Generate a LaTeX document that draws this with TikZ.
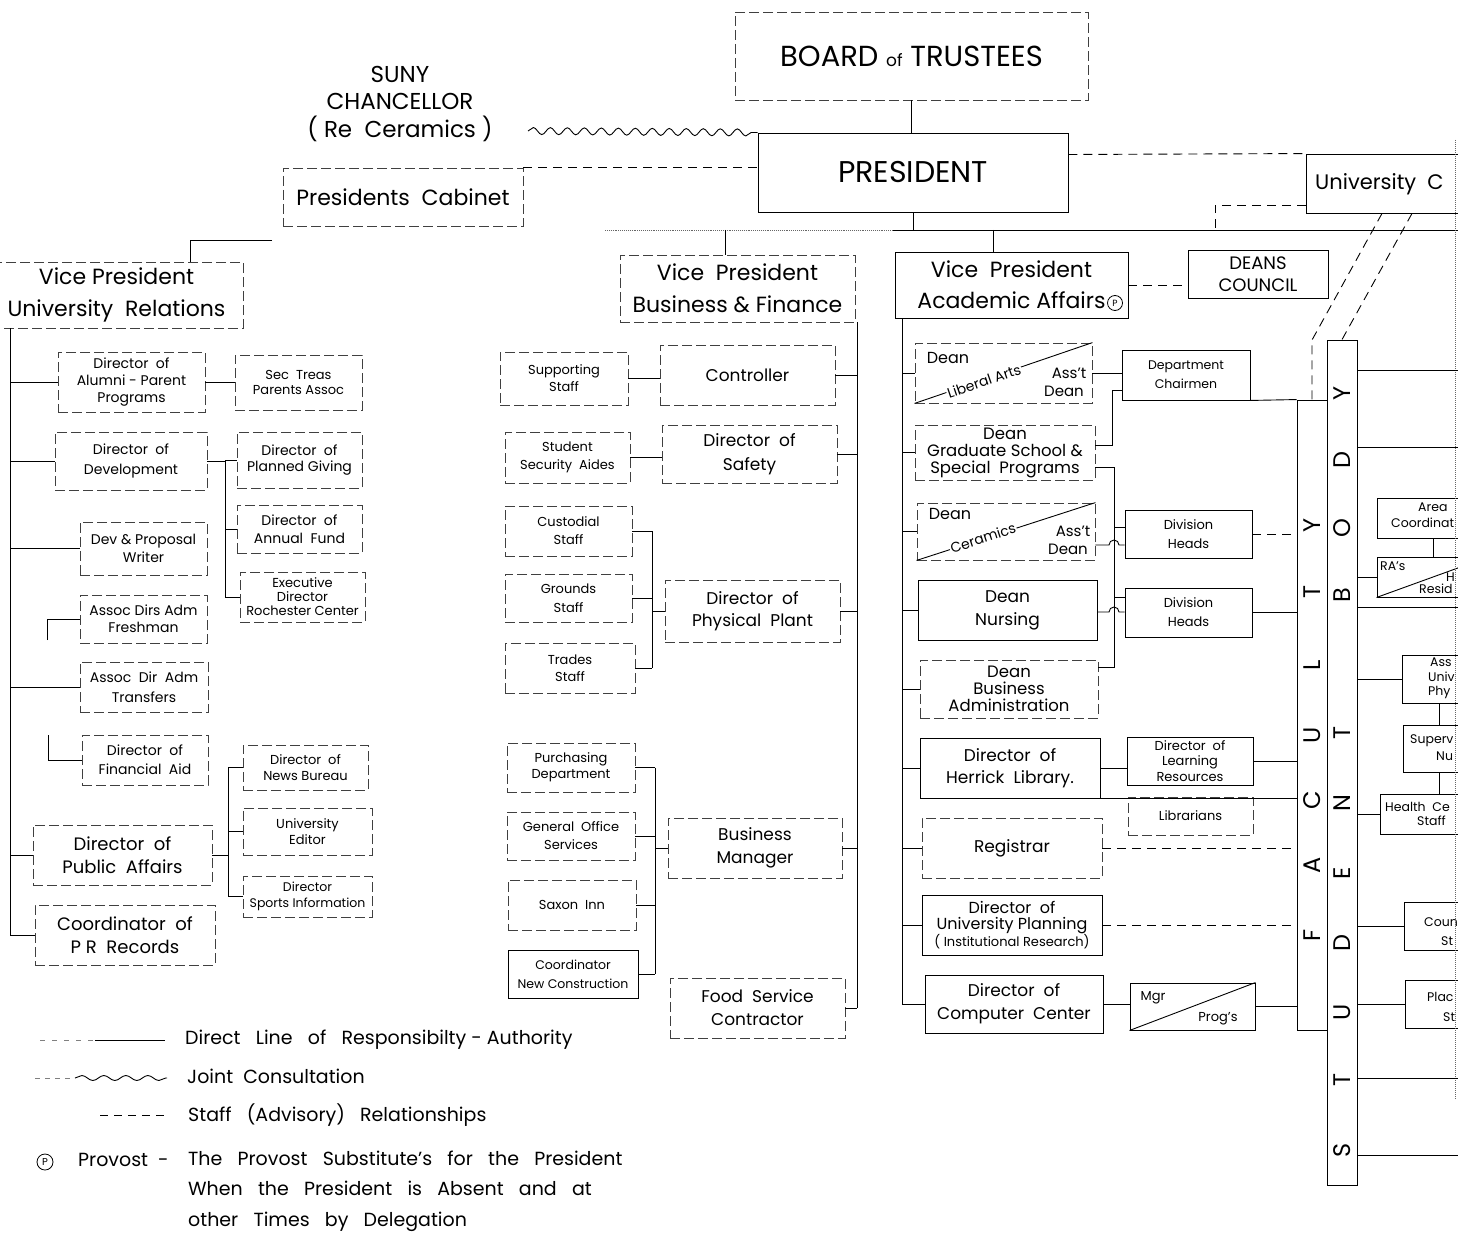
\documentclass[tikz,border=0pt]{standalone}
\usepackage{fontspec}
\setmainfont{Poppins}
\usetikzlibrary{decorations.pathmorphing,calc}
\newcommand{\fsz}[2]{\fontsize{#1}{#2}\selectfont}
\begin{document}
\begin{tikzpicture}[x=1pt,y=-1pt]
\tikzset{
 sb/.style={draw, line width=0.9pt, inner sep=0pt, align=center},
 fb/.style={draw=black!75, line width=0.8pt, dash pattern=on 10pt off 4pt, inner sep=0pt, align=center},
 ln/.style={line width=0.9pt},
 adv/.style={line width=0.9pt, dash pattern=on 9pt off 6pt},
 wavy/.style={line width=0.9pt, decorate, decoration={snake, amplitude=3.5pt, segment length=17pt}},
 lbl/.style={inner sep=0pt, align=center},
 vl/.style={inner sep=0pt, rotate=90, font=\fsz{24}{24}},
}
\useasboundingbox (0,0) rectangle (1458,1233);
\fill[white] (0,0) rectangle (1458,1233);
\clip (0,0) rectangle (1458,1233);

% ---------- top ----------
\node[fb, minimum width=353pt, minimum height=88pt, font=\fsz{29}{32}] (board) at (911.5,56) {BOARD {\fsz{17}{17}of} TRUSTEES};
\node[sb, minimum width=310pt, minimum height=79pt, font=\fsz{30}{32}] (pres) at (913,172.5) {PRESIDENT};
\node[lbl, font=\fsz{23}{27.5}] (suny) at (400,104) {SUNY\\CHANCELLOR\\( Re\ \ Ceramics )};
\node[fb, minimum width=240pt, minimum height=58pt, font=\fsz{22}{24}] (cab) at (403,197) {Presidents\ \ Cabinet};
\node[sb, minimum width=194pt, minimum height=59pt] (univc) at (1403,183.5) {};
\node[lbl, anchor=west, font=\fsz{21}{24}] (univt) at (1315,184) {University\ \ C};
\node[sb, minimum width=140pt, minimum height=48pt, font=\fsz{18}{22}] (deans) at (1258,274) {DEANS\\COUNCIL};

% ---------- vice presidents ----------
\node[fb, minimum width=253pt, minimum height=66pt, font=\fsz{22}{32}] (vpur) at (116.5,295) {Vice President\\University\ \ Relations};
\node[fb, minimum width=235pt, minimum height=67pt, font=\fsz{22}{32}] (vpbf) at (737.5,288.5) {Vice\ \ President\\Business \& Finance};
\node[sb, minimum width=233pt, minimum height=66pt, font=\fsz{22}{31}] (vpaa) at (1011.5,285) {Vice\ \ President\\Academic Affairs\hspace{20pt}};
\node[draw, circle, line width=0.8pt, inner sep=0.5pt, minimum size=15pt, font=\fsz{9}{9}] (pc) at (1115,303) {P};

% ---------- left column ----------
\node[fb, minimum width=147pt, minimum height=60pt, font=\fsz{14}{17}] (alumni) at (131.5,382) {Director\ \ of\\Alumni - Parent\\Programs};
\node[fb, minimum width=127pt, minimum height=55pt, font=\fsz{13}{15}] (sectreas) at (298.5,382.5) {Sec\ \ Treas\\Parents Assoc};
\node[fb, minimum width=152pt, minimum height=58pt, font=\fsz{14}{20}] (devel) at (131,461) {Director\ \ of\\Development};
\node[fb, minimum width=125pt, minimum height=56pt, font=\fsz{14}{16}] (planned) at (299.5,460) {Director\ \ of\\Planned Giving};
\node[fb, minimum width=125pt, minimum height=48pt, font=\fsz{14}{18}] (annual) at (299.5,529) {Director\ \ of\\Annual\ \ Fund};
\node[fb, minimum width=125pt, minimum height=50pt, font=\fsz{13}{14}] (rochester) at (302.5,597) {Executive\\Director\\Rochester Center};
\node[fb, minimum width=127pt, minimum height=53pt, font=\fsz{14}{18}] (devwriter) at (143.5,548.5) {Dev \& Proposal\\Writer};
\node[fb, minimum width=127pt, minimum height=48pt, font=\fsz{14}{17}] (freshman) at (143.5,619) {Assoc Dirs Adm\\Freshman};
\node[fb, minimum width=128pt, minimum height=50pt, font=\fsz{14}{20}] (transfers) at (144,687) {Assoc\ \ Dir\ \ Adm\\Transfers};
\node[fb, minimum width=126pt, minimum height=50pt, font=\fsz{14}{19}] (finaid) at (145,760) {Director\ \ of\\Financial\ \ Aid};
\node[fb, minimum width=179pt, minimum height=60pt, font=\fsz{18}{23}] (pubaff) at (122.5,855) {Director\ \ of\\Public\ \ Affairs};
\node[fb, minimum width=125pt, minimum height=45pt, font=\fsz{13}{16}] (newsb) at (305.5,767.5) {Director\ \ of\\News Bureau};
\node[fb, minimum width=129pt, minimum height=47pt, font=\fsz{13}{16}] (editor) at (307.5,831.5) {University\\Editor};
\node[fb, minimum width=129pt, minimum height=41pt, font=\fsz{12.5}{16}] (sports) at (307.5,896.5) {Director\\Sports Information};
\node[fb, minimum width=180pt, minimum height=60pt, font=\fsz{18}{23}] (prrec) at (125,935) {Coordinator\ \ of\\P\ R\ \ Records};

% ---------- middle column ----------
\node[fb, minimum width=128pt, minimum height=53pt, font=\fsz{13}{17}] (supp) at (564,378.5) {Supporting\\Staff};
\node[fb, minimum width=125pt, minimum height=51pt, font=\fsz{13}{18}] (secaides) at (567.5,457.5) {Student\\Security\ \ Aides};
\node[fb, minimum width=127pt, minimum height=50pt, font=\fsz{13}{18}] (custod) at (568.5,531) {Custodial\\Staff};
\node[fb, minimum width=127pt, minimum height=48pt, font=\fsz{13}{19}] (grounds) at (568.5,598) {Grounds\\Staff};
\node[fb, minimum width=130pt, minimum height=50pt, font=\fsz{13}{17}] (trades) at (570,668) {Trades\\Staff};
\node[fb, minimum width=175pt, minimum height=60pt, font=\fsz{17}{22}] (controller) at (747.5,375) {Controller};
\node[fb, minimum width=175pt, minimum height=58pt, font=\fsz{17}{24}] (safety) at (749.5,454) {Director\ \ of\\Safety};
\node[fb, minimum width=175pt, minimum height=62pt, font=\fsz{17}{22}] (physplant) at (752.5,611) {Director\ \ of\\Physical\ \ Plant};
\node[fb, minimum width=128pt, minimum height=49pt, font=\fsz{13}{16}] (purch) at (571,767.5) {Purchasing\\Department};
\node[fb, minimum width=128pt, minimum height=48pt, font=\fsz{13}{18}] (genoff) at (571,836) {General\ \ Office\\Services};
\node[fb, minimum width=128pt, minimum height=50pt, font=\fsz{13}{18}] (saxon) at (572,905) {Saxon\ \ Inn};
\node[sb, minimum width=130pt, minimum height=48pt, font=\fsz{12.5}{19}] (newcon) at (573,974) {Coordinator\\New Construction};
\node[fb, minimum width=174pt, minimum height=60pt, font=\fsz{17}{23}] (busmgr) at (755,848) {Business\\Manager};
\node[fb, minimum width=175pt, minimum height=60pt, font=\fsz{17}{23}] (food) at (757.5,1008) {Food\ \ Service\\Contractor};

% ---------- right column ----------
\node[fb, minimum width=177pt, minimum height=60pt] (libarts) at (1003.5,373) {};
\node[sb, minimum width=128pt, minimum height=50pt, font=\fsz{12.5}{19}] (deptch) at (1186,375) {Department\\Chairmen};
\node[fb, minimum width=180pt, minimum height=55pt, font=\fsz{16.5}{17}] (grad) at (1005,452.5) {Dean\\Graduate\ School \&\\Special\ \ Programs};
\node[fb, minimum width=178pt, minimum height=57pt] (ceram) at (1006,531.5) {};
\node[sb, minimum width=127pt, minimum height=48pt, font=\fsz{13}{19}] (div1) at (1188.5,534) {Division\\Heads};
\node[sb, minimum width=179pt, minimum height=60pt, font=\fsz{17}{23}] (nursing) at (1007.5,610) {Dean\\Nursing};
\node[sb, minimum width=127pt, minimum height=49pt, font=\fsz{13}{19}] (div2) at (1188.5,612.5) {Division\\Heads};
\node[fb, minimum width=178pt, minimum height=58pt, font=\fsz{16.5}{17}] (busadm) at (1009,689) {Dean\\Business\\Administration};
\node[sb, minimum width=180pt, minimum height=60pt, font=\fsz{17}{22}] (herrick) at (1010,768) {Director\ \ of\\Herrick\ \ Library.};
\node[sb, minimum width=126pt, minimum height=48pt, font=\fsz{13}{15.5}] (learnres) at (1190,761) {Director\ \ of\\Learning\\Resources};
\node[fb, minimum width=125pt, minimum height=38pt, font=\fsz{13}{15}] (librarians) at (1190.5,816) {Librarians};
\node[fb, minimum width=180pt, minimum height=60pt, font=\fsz{17}{22}] (registrar) at (1012,848) {Registrar};
\node[sb, minimum width=180pt, minimum height=60pt, font=\fsz{16}{16.5}] (planning) at (1012,925) {Director\ \ of\\University Planning\\{\fsz{13}{16.5}( Institutional Research)}};
\node[sb, minimum width=178pt, minimum height=58pt, font=\fsz{17}{23}] (compctr) at (1014,1004) {Director\ \ of\\Computer\ \ Center};
\node[sb, minimum width=125pt, minimum height=47pt] (mgrprog) at (1192.5,1006.5) {};

% texts in split boxes
\draw[ln] (libarts.south west) -- (libarts.north east);
\node[lbl, fill=white, inner sep=1pt, rotate=18.8, font=\fsz{14}{14}] (latx) at (984,381) {Liberal Arts};
\node[lbl, font=\fsz{16}{16}] (lad1) at (948,358) {Dean};
\node[lbl, font=\fsz{15}{15}] (las) at (1069,373) {Ass't};
\node[lbl, font=\fsz{15}{15}] (lad2) at (1064,391) {Dean};
\draw[ln] (ceram.south west) -- (ceram.north east);
\node[lbl, fill=white, inner sep=1pt, rotate=17.9, font=\fsz{14}{14}] (cetx) at (983,538) {Ceramics};
\node[lbl, font=\fsz{16}{16}] (ced1) at (950,514) {Dean};
\node[lbl, font=\fsz{15}{15}] (ces) at (1073,531) {Ass't};
\node[lbl, font=\fsz{15}{15}] (ced2) at (1068,549) {Dean};
\draw[ln] (mgrprog.south west) -- (mgrprog.north east);
\node[lbl, font=\fsz{13}{13}] (mgr) at (1153,998) {Mgr};
\node[lbl, font=\fsz{13}{13}] (progs) at (1218,1019) {Prog's};

% ---------- bars ----------
\node[sb, minimum width=30pt, minimum height=845pt] (student) at (1342,762.5) {};
\node[sb, minimum width=30pt, minimum height=630pt] (faculty) at (1312,715) {};
\foreach \l/\yy [count=\i] in {F/935,A/865,C/800,U/735,L/665,T/592,Y/525}
  \node[vl] (fl\i) at (1312,\yy) {\l};
\foreach \l/\yy [count=\i] in {S/1150,T/1080,U/1012,D/943,E/873,N/803,T/733,B/595,O/528,D/460,Y/393}
  \node[vl] (sl\i) at (1342,\yy) {\l};

% ---------- right edge boxes ----------
\node[sb, minimum width=112pt, minimum height=40pt] (areacoord) at (1433,518) {};
\node[sb, minimum width=112pt, minimum height=40pt] (ras) at (1433,577) {};
\node[sb, minimum width=74pt, minimum height=48pt] (asst) at (1439,679) {};
\node[sb, minimum width=72pt, minimum height=47pt] (superv) at (1439,748.5) {};
\node[sb, minimum width=118pt, minimum height=40pt] (health) at (1439,814) {};
\node[sb, minimum width=100pt, minimum height=48pt] (coun) at (1454,926) {};
\node[sb, minimum width=100pt, minimum height=48pt] (plac) at (1455,1004) {};
\tikzset{rt/.style={inner sep=0pt, anchor=west, font=\fsz{12.5}{13}}}
\node[rt] (t1) at (1418,507) {Area};
\node[rt] (t2) at (1391,523) {Coordinat};
\node[rt] (t3) at (1380,566) {RA's};
\node[rt] (t4) at (1446,577) {H};
\node[rt] (t5) at (1419,589) {Resid};
\node[rt] (t6) at (1430,662) {Ass};
\node[rt] (t7) at (1428,677) {Univ};
\node[rt] (t8) at (1428,692) {Phy};
\node[rt] (t9) at (1410,741) {Superv};
\node[rt] (t10) at (1436,756) {Nu};
\node[rt] (t11) at (1385,807) {Health\ \ Ce};
\node[rt] (t12) at (1417,821) {Staff};
\node[rt] (t13) at (1424,922) {Coun};
\node[rt] (t14) at (1441,941) {St};
\node[rt] (t15) at (1427,997) {Plac};
\node[rt] (t16) at (1443,1017) {St};
\draw[ln] (ras.south west) -- (ras.north east);

% ---------- top connectors ----------
\draw[ln] (board.south) -- (board.south |- pres.north);
\coordinate (mL) at (605,230); \coordinate (mM) at (893,230); \coordinate (mR) at (1460,230);
\draw[ln, densely dotted, black!60] (mL) -- (mM);
\draw[ln] (mM) -- (mR);
\draw[ln] (pres.south) -- (pres.south |- mM);
\coordinate (bfj) at (725,230); \draw[ln] (bfj) -- (bfj |- vpbf.north);
\coordinate (aaj) at (993,230); \draw[ln] (aaj) -- (aaj |- vpaa.north);
\coordinate (urj) at (272,240); \coordinate (urk) at (190,240);
\draw[ln] (urj) -- (urk) -- (urk |- vpur.north);
\coordinate (wv0) at (528,131);
\draw[wavy] (wv0) -- (pres.north west);
\draw[adv] (cab.north east) -- (cab.north east -| pres.west);
\draw[adv] ([yshift=18pt]pres.east) -- (univc.north west);
\coordinate (uck) at (1215,205); \coordinate (ucj) at (1215,230);
\draw[adv] ([yshift=-21.5pt]univc.west) -- (uck) -- (ucj);
\coordinate (ub1) at (1312,340);
\draw[adv] ([xshift=-21pt]univc.south) -- (ub1) -- (faculty.north);
\draw[adv] ([xshift=9pt]univc.south) -- (student.north);
\coordinate (re1) at (1455,140); \coordinate (re2) at (1455,1100);
\draw[black!60, densely dotted, line width=1pt] (re1) -- (re2);

% ---------- left column connectors ----------
\coordinate (ls) at (10,328);
\draw[ln] (ls) -- (ls |- prrec.west) -- (prrec.west);
\foreach \n in {alumni,devel,devwriter,transfers,pubaff} \draw[ln] (\n.west -| ls) -- (\n.west);
\draw[ln] (alumni.east) -- (alumni.east -| sectreas.west);
\coordinate (dv) at (225,0);
\draw[ln] (devel.east) -- (devel.east -| dv);
\draw[ln] (planned.west -| dv) -- (rochester.west -| dv);
\foreach \n in {planned,annual,rochester} \draw[ln] (\n.west -| dv) -- (\n.west);
\coordinate (frb) at (47,640); \draw[ln] (frb) -- (frb |- freshman.west) -- (freshman.west);
\coordinate (fab) at (48,735); \draw[ln] (fab) -- (fab |- finaid.west) -- (finaid.west);
\coordinate (pa) at (228,0);
\draw[ln] (pubaff.east) -- (pubaff.east -| pa);
\draw[ln] (newsb.west -| pa) -- (sports.west -| pa);
\foreach \n in {newsb,editor,sports} \draw[ln] (\n.west -| pa) -- (\n.west);

% ---------- middle column connectors ----------
\coordinate (ms) at (857,0);
\draw[ln] (vpbf.south -| ms) -- (food.east -| ms);
\foreach \n in {controller,safety,physplant,busmgr,food} \draw[ln] (\n.east) -- (\n.east -| ms);
\draw[ln] (supp.east) -- (supp.east -| controller.west);
\draw[ln] (secaides.east) -- (secaides.east -| safety.west);
\coordinate (pp) at (652,0);
\draw[ln] (custod.east -| pp) -- (trades.east -| pp);
\foreach \n in {custod,grounds,trades} \draw[ln] (\n.east) -- (\n.east -| pp);
\draw[ln] (physplant.west) -- (physplant.west -| pp);
\coordinate (bm) at (655,0);
\draw[ln] (purch.east -| bm) -- (newcon.east -| bm);
\foreach \n in {purch,genoff,saxon,newcon} \draw[ln] (\n.east) -- (\n.east -| bm);
\draw[ln] (busmgr.west) -- (busmgr.west -| bm);

% ---------- right column connectors ----------
\coordinate (rs) at (902,0);
\draw[ln] (vpaa.south -| rs) -- (compctr.west -| rs);
\foreach \n in {libarts,grad,ceram,nursing,busadm,herrick,registrar,planning,compctr} \draw[ln] (\n.west -| rs) -- (\n.west);
\draw[adv] (vpaa.east) -- (vpaa.east -| deans.west);
\draw[ln] (libarts.east) -- (libarts.east -| deptch.west);
\coordinate (g1) at (1112,445); \coordinate (g2) at (1112,390);
\draw[ln] ([yshift=7.5pt]grad.east) -- (g1) -- (g2) -- (g2 -| deptch.west);
\coordinate (v2t) at (1114,467); \coordinate (v2b) at (1114,667);
\draw[ln] ([yshift=-14.5pt]grad.east) -- (v2t) -- (v2b) -- (v2b -| busadm.east);
\coordinate (d1) at (1114,527); \draw[ln] (d1) -- (d1 -| div1.west);
\coordinate (d2) at (1114,597); \draw[ln] (d2) -- (d2 -| div2.west);
\coordinate (c1) at (1109,545);
\draw[ln] (ceram.east |- c1) -- (c1) arc[start angle=180, end angle=360, radius=5] -- (c1 -| div1.west);
\coordinate (n1) at (1109,612);
\draw[ln] (nursing.east |- n1) -- (n1) arc[start angle=180, end angle=360, radius=5] -- (n1 -| div2.west);
\draw[ln] (herrick.east) -- (herrick.east -| learnres.west);
\draw[ln] (herrick.south east) -- (herrick.south east -| faculty.west);
\draw[ln] (compctr.east) -- (compctr.east -| mgrprog.west);
\draw[ln] (deptch.south east) -- (faculty.north west);
\draw[adv] (div1.east) -- (div1.east -| faculty.west);
\draw[ln] (div2.east) -- (div2.east -| faculty.west);
\draw[ln] (learnres.east) -- (learnres.east -| faculty.west);
\draw[adv] (registrar.east) -- (registrar.east -| faculty.west);
\draw[adv] (planning.east) -- (planning.east -| faculty.west);
\draw[ln] (mgrprog.east) -- (mgrprog.east -| faculty.west);

% ---------- student bar right connectors ----------
\foreach \yy [count=\i] in {370,447,607,1078,1155} {
  \coordinate (sr\i) at (1460,\yy);
  \draw[ln] (sr\i -| student.east) -- (sr\i);
}
\foreach \n in {ras,asst,health,coun,plac} \draw[ln] (\n.west -| student.east) -- (\n.west);
\draw[ln] (areacoord.south) -- (ras.north);
\draw[ln] (asst.south) -- (superv.north);
\draw[ln] (superv.south) -- (health.north);

% ---------- legend ----------
\tikzset{lg/.style={inner sep=0pt, anchor=west, font=\fsz{19}{21}}}
\node[lg] (lg1) at (185,1040) {Direct\ \ \ Line\ \ \ of\ \ \ Responsibilty - Authority};
\node[lg] (lg2) at (187,1076) {Joint\ \ Consultation};
\node[lg] (lg3) at (188,1115) {Staff\ \ \ (Advisory)\ \ \ Relationships};
\node[draw, circle, line width=0.8pt, inner sep=0.5pt, minimum size=16pt, font=\fsz{10}{10}] (lgp) at (45,1162) {P};
\node[lg] (lg4) at (78,1160) {Provost\ \ -};
\node[lg] (lg5) at (188,1158) {The\ \ \ Provost\ \ \ Substitute's\ \ \ for\ \ \ the\ \ \ President};
\node[lg] (lg6) at (188,1188) {When\ \ \ the\ \ \ President\ \ \ is\ \ \ Absent\ \ \ and\ \ \ at};
\node[lg] (lg7) at (188,1222) {other\ \ \ Times\ \ \ by\ \ \ Delegation};
\coordinate (k1a) at (40,1040); \coordinate (k1b) at (95,1040); \coordinate (k1c) at (165,1040);
\draw[black!50, line width=0.7pt, dash pattern=on 5pt off 7pt] (k1a) -- (k1b);
\draw[ln] (k1b) -- (k1c);
\coordinate (k2a) at (35,1078); \coordinate (k2b) at (75,1078); \coordinate (k2c) at (167,1078);
\draw[black!50, line width=0.7pt, dash pattern=on 5pt off 5pt] (k2a) -- (k2b);
\draw[wavy, decoration={snake, amplitude=2.5pt, segment length=22pt}] (k2b) -- (k2c);
\coordinate (k3a) at (100,1115); \coordinate (k3b) at (165,1115);
\draw[adv, dash pattern=on 8pt off 6pt] (k3a) -- (k3b);
\end{tikzpicture}
\end{document}
